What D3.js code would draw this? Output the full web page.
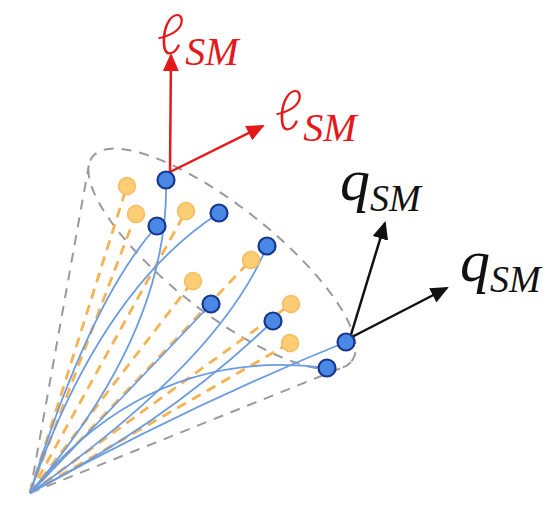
<!DOCTYPE html>
<html>
<head>
<meta charset="utf-8">
<script src="https://cdn.jsdelivr.net/npm/d3@7"></script>
<style>
  html, body { margin: 0; padding: 0; background: #fff; }
  svg { display: block; }
</style>
</head>
<body>
<svg width="548" height="506"></svg>
<script>
// all positions are offsets from the apex of the cone (x right, y up)
const apex = [0, 0];

// blue end points (solid curves) and the control point bending each curve
const bluePoints = [[136, 313], [127, 267], [189, 280], [237, 247], [181, 189], [243, 172], [316, 151], [297, 125]];
const blueBends = [[140, 163], [60, 193], [70, 203], [190, 133], [95, 98], [140, 73], [160, 88], [120, 148]];

// orange end points (straight dashed lines)
const orangePoints = [[97, 307], [106, 279], [156, 282], [221, 233], [163, 212], [261, 189], [260, 150]];

// cap of the cone: centre, half axes, tilt in degrees
const capCentre = [192, 234];
const capAxes = [165, 53];
const capTilt = 38.3;

// arrows: [from, to]
const redArrows = [[[140, 321], [141, 438]], [[140, 321], [233, 367]]];
const blackArrows = [[[320, 155], [355, 270]], [[320, 155], [417, 205]]];

// labels: [main, subscript, x, y]
const redLabels = [['ℓ', 'SM', 127, 439], ['ℓ', 'SM', 245, 363]];
const blackLabels = [['q', 'SM', 310, 293], ['q', 'SM', 430, 212]];

let svg = d3.select('svg');

let x = d3.scaleLinear().domain([0, 100]).range([30, 130]);
let y = d3.scaleLinear().domain([0, 100]).range([493, 393]);

let defs = svg.append('defs');
[['red', '#e3191c'], ['black', '#111']].forEach(([id, c]) => {
    defs.append('marker')
        .attr('id', 'head-' + id)
        .attr('viewBox', '0 0 18 16')
        .attr('refX', 16).attr('refY', 8)
        .attr('markerWidth', 18).attr('markerHeight', 16)
        .attr('markerUnits', 'userSpaceOnUse')
        .attr('orient', 'auto')
        .append('path')
        .attr('d', 'M0,0 L18,8 L0,16 Z')
        .attr('fill', c);
});

// cap ellipse sampled in data space
let t = capTilt * Math.PI / 180;
let ux = Math.cos(t), uy = -Math.sin(t);      // major axis (down-right in screen)
let vx = Math.sin(t), vy = Math.cos(t);       // minor axis
let cap = d3.range(0, 360, 2).map(a => {
    let r = a * Math.PI / 180;
    let ca = capAxes[0] * Math.cos(r), sa = capAxes[1] * Math.sin(r);
    return [capCentre[0] + ca * ux + sa * vx, capCentre[1] + ca * uy + sa * vy];
});

// tangent lines from apex: smallest and largest angle seen from apex
let angles = cap.map(p => Math.atan2(p[1] - apex[1], p[0] - apex[0]));
let left = cap[d3.maxIndex(angles)], right = cap[d3.minIndex(angles)];

let line = d3.line().x(d => x(d[0])).y(d => y(d[1]));

let outline = svg.append('g')
    .attr('fill', 'none')
    .attr('stroke', '#9a9a9a')
    .attr('stroke-width', 2)
    .attr('stroke-dasharray', '10,8');

outline.append('path')
    .attr('d', d3.line().x(d => x(d[0])).y(d => y(d[1])).curve(d3.curveLinearClosed)(cap));
outline.append('path').attr('d', line([apex, left]));
outline.append('path').attr('d', line([apex, right]));

svg.append('g')
    .selectAll('path')
    .data(orangePoints)
    .enter().append('path')
    .attr('d', d => line([apex, d]))
    .attr('fill', 'none')
    .attr('stroke', '#f5b353')
    .attr('stroke-width', 2.8)
    .attr('stroke-dasharray', '10,7');

svg.append('g')
    .selectAll('path')
    .data(bluePoints)
    .enter().append('path')
    .attr('d', (d, i) => {
        let p = d3.path();
        let c = blueBends[i];
        p.moveTo(x(apex[0]), y(apex[1]));
        p.quadraticCurveTo(x(c[0]), y(c[1]), x(d[0]), y(d[1]));
        return p.toString();
    })
    .attr('fill', 'none')
    .attr('stroke', '#6c9be0')
    .attr('stroke-width', 1.8);

function arrows(data, colour, id) {
    svg.append('g')
        .selectAll('line')
        .data(data)
        .enter().append('line')
        .attr('x1', d => x(d[0][0]))
        .attr('y1', d => y(d[0][1]))
        .attr('x2', d => x(d[1][0]))
        .attr('y2', d => y(d[1][1]))
        .attr('stroke', colour)
        .attr('stroke-width', 2.5)
        .attr('marker-end', 'url(#head-' + id + ')');
}
arrows(redArrows, '#e3191c', 'red');
arrows(blackArrows, '#111', 'black');

svg.append('g')
    .selectAll('circle')
    .data(orangePoints)
    .enter().append('circle')
    .attr('cx', d => x(d[0]))
    .attr('cy', d => y(d[1]))
    .attr('r', 8.5)
    .attr('fill', '#fdcd76')
    .attr('stroke', '#f6bd5f')
    .attr('stroke-width', 1.5);

svg.append('g')
    .selectAll('circle')
    .data(bluePoints)
    .enter().append('circle')
    .attr('cx', d => x(d[0]))
    .attr('cy', d => y(d[1]))
    .attr('r', 8.5)
    .attr('fill', '#4a88e6')
    .attr('stroke', '#17368f')
    .attr('stroke-width', 2.2);

function labels(data, colour, mainFont, mainSize, subSize, subDx, subDy) {
    data.forEach(l => {
        let g = svg.append('text')
            .attr('x', x(l[2]))
            .attr('y', y(l[3]))
            .attr('fill', colour)
            .attr('font-family', "'Liberation Serif', 'Times New Roman', serif")
            .attr('font-style', 'italic');
        g.append('tspan')
            .attr('font-family', mainFont)
            .attr('font-weight', 300)
            .attr('font-size', mainSize)
            .text(l[0]);
        g.append('tspan')
            .attr('font-size', subSize)
            .attr('dx', subDx)
            .attr('dy', subDy)
            .text(l[1]);
    });
}
labels(redLabels, '#e3191c', "Lato, 'Liberation Serif', serif", 56, 40, 2, 11);
labels(blackLabels, '#111', "'Liberation Serif', 'Times New Roman', serif", 60, 38, 0, 11);
</script>
</body>
</html>
